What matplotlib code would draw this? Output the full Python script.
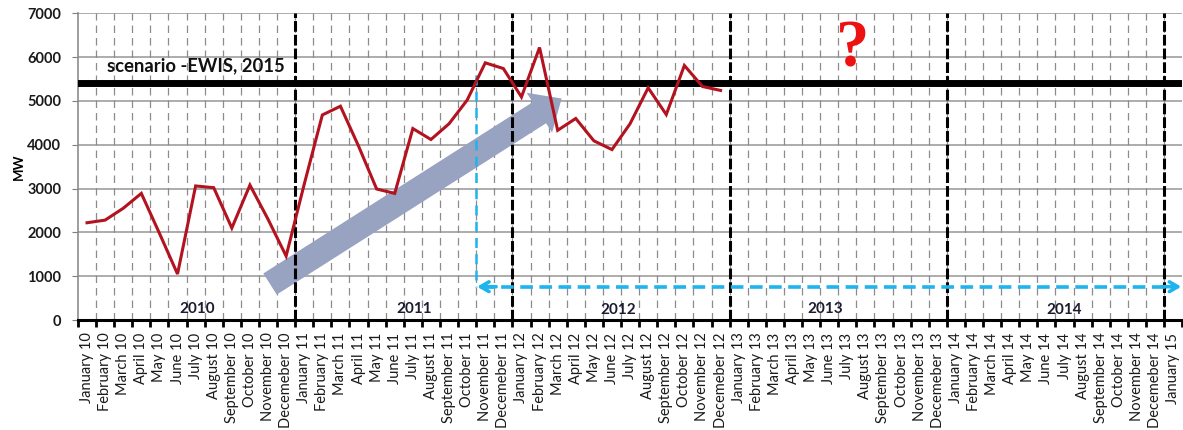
import matplotlib
matplotlib.use("Agg")
import matplotlib.pyplot as plt
from matplotlib.patches import FancyArrowPatch

# Monthly peak load, MW (January 2010 - December 2012)
load_2010 = [2220, 2280, 2550, 2890, 1980, 1050, 3060, 3020, 2100, 3080, 2300, 1460]
load_2011 = [3100, 4680, 4880, 3970, 2990, 2890, 4370, 4120, 4480, 5020, 5870, 5740]
load_2012 = [5090, 6220, 4330, 4600, 4090, 3890, 4480, 5300, 4690, 5810, 5330, 5240]
load_mw = load_2010 + load_2011 + load_2012

# Scenario level (EWIS, 2015)
scenario_level = 5410
scenario_label = "scenario -EWIS, 2015"

# Axis categories: every month from January 2010 to January 2015
month_names = ["January", "February", "March", "April", "May", "June", "July",
               "August", "September", "October", "November", "Decemeber"]
years_short = ["10", "11", "12", "13", "14"]
month_labels = [f"{m} {y}" for y in years_short for m in month_names] + ["January 15"]
year_titles = ["2010", "2011", "2012", "2013", "2014"]
y_ticks = [0, 1000, 2000, 3000, 4000, 5000, 6000, 7000]

fig = plt.figure(figsize=(11.83, 4.30), dpi=100)
ax = fig.add_axes([0.0659, 0.2558, 0.9334, 0.7132])

n = len(month_labels)
x_cat = list(range(n))
ax.set_xlim(-0.5, n - 0.5)
ax.set_ylim(0, 7000)

# grid: solid horizontal, dashed vertical between categories
ax.set_yticks(y_ticks)
for v in y_ticks[1:]:
    ax.axhline(v, color="#a6a6a6", lw=1.3, zorder=1)
bounds = [i - 0.5 for i in range(n + 1)]
for b in bounds[1:-1]:
    ax.axvline(b, color="#8c8c8c", lw=0.9, ls=(0, (6, 4)), zorder=1)

# year separators
for k in range(1, 6):
    ax.axvline(12 * k - 0.5, color="black", lw=2.2, ls=(0, (3.5, 1)), zorder=4)

# trend arrow
trend = FancyArrowPatch((10.11, 821), (26.22, 5055),
                        arrowstyle="simple,head_length=19,head_width=34,tail_width=18",
                        mutation_scale=1, shrinkA=0, shrinkB=0,
                        color="#97a3c1", lw=0, zorder=2)
ax.add_patch(trend)

# scenario level
ax.axhline(scenario_level, color="black", lw=5, zorder=5)
ax.text(1.1, 5800, scenario_label, fontsize=13.3, fontweight="bold",
        family="Lato", va="center", ha="left", color="#111111", zorder=6)

# measured load
ax.plot(x_cat[:len(load_mw)], load_mw, color="#b3121f", lw=2.2, zorder=6,
        solid_joinstyle="miter")

# forecast horizon marker
blue = "#1fb4ee"
ax.plot([21.5, 21.5], [5590, 760], color=blue, lw=1.8, ls=(0, (4, 2.5)), zorder=5)
ax.plot([21.8, 60.2], [760, 760], color=blue, lw=2.6, ls=(0, (3.5, 1.8)), zorder=5)
ax.annotate("", xy=(21.55, 760), xytext=(22.6, 760),
            arrowprops=dict(arrowstyle="->,head_length=0.6,head_width=0.35",
                            color=blue, lw=2.6, shrinkA=0, shrinkB=0), zorder=5)
ax.annotate("", xy=(60.45, 760), xytext=(59.4, 760),
            arrowprops=dict(arrowstyle="->,head_length=0.6,head_width=0.35",
                            color=blue, lw=2.6, shrinkA=0, shrinkB=0), zorder=5)

ax.text(42.3, 6160, "?", fontsize=48, family="Liberation Serif", fontweight="bold",
        color="#ee1111", ha="center", va="center", zorder=6)

# year titles
year_pos = [(6.06, 262), (18.1, 262), (29.35, 235), (40.8, 250), (53.96, 235)]
for (xp, yp), t in zip(year_pos, year_titles):
    ax.text(xp, yp, t, fontsize=11, fontweight="bold", family="Lato",
            color="#1c1c30", ha="center", va="center", zorder=6)

# axes styling
ax.set_xticks(x_cat)
ax.set_xticklabels(month_labels, rotation=90, fontsize=10.5, family="Lato",
                   color="#1a1a1a")
ax.set_xticks(bounds, minor=True)
ax.tick_params(axis="x", which="major", length=0, pad=9)
ax.tick_params(axis="x", which="minor", length=5, width=2, color="black",
               direction="out")
ax.tick_params(axis="y", length=4, color="#7f7f7f", labelsize=10.5, pad=8,
               labelcolor="#1a1a1a")
for lab in ax.get_yticklabels():
    lab.set_family("Lato")
    lab.set_fontweight("bold")
ax.set_ylabel("MW", fontsize=9.5, family="Lato", fontweight="bold", labelpad=2)

ax.spines["top"].set_visible(False)
ax.spines["right"].set_visible(False)
ax.spines["left"].set_color("#8c8c8c")
ax.spines["left"].set_linewidth(1.2)
ax.spines["bottom"].set_color("black")
ax.spines["bottom"].set_linewidth(2.2)
ax.spines["bottom"].set_zorder(7)

fig.savefig("out.png", dpi=100)
